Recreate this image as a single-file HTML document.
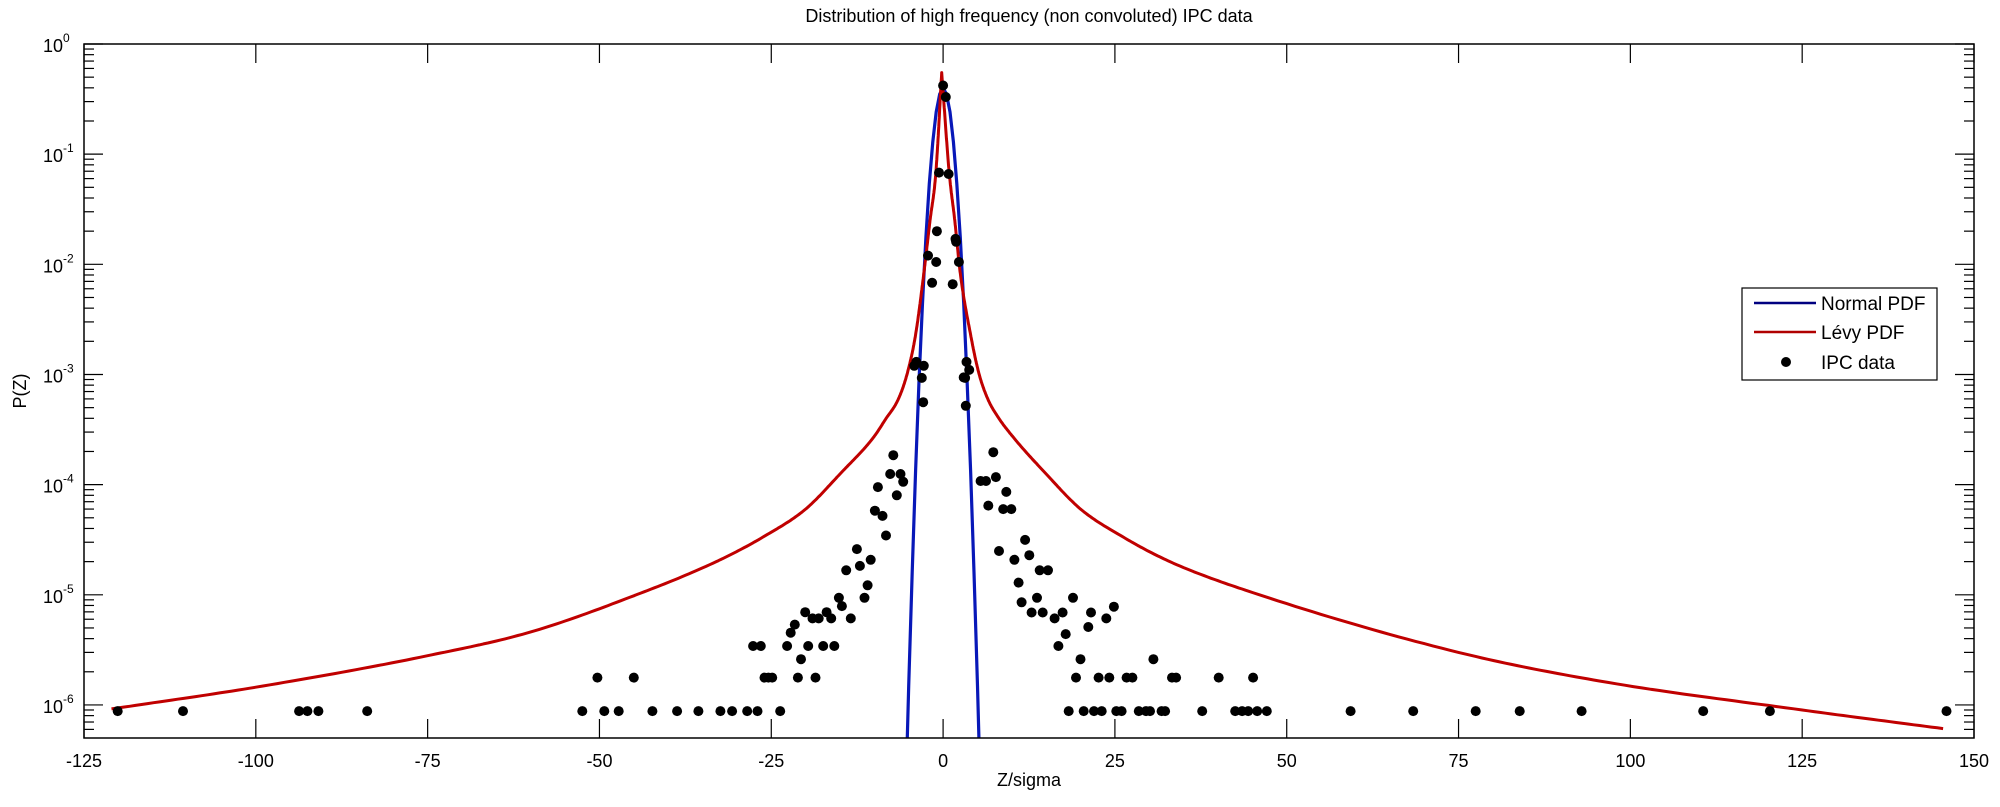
<!DOCTYPE html>
<html><head><meta charset="utf-8"><style>
html,body{margin:0;padding:0;background:#fff;}
svg{display:block;font-family:"Liberation Sans",Arial,sans-serif;}
</style></head><body>
<svg id="chart" width="2000" height="807" viewBox="0 0 2000 807">
<rect x="0" y="0" width="2000" height="807" fill="#fff"/>
<text x="1029" y="22" font-size="18" text-anchor="middle">Distribution of high frequency (non convoluted) IPC data</text>
<text x="1029" y="786" font-size="18" text-anchor="middle">Z/sigma</text>
<text x="26" y="391" font-size="18" text-anchor="middle" transform="rotate(-90 26 391)">P(Z)</text>
<defs><clipPath id="plotclip"><rect x="84" y="44" width="1890" height="694"/></clipPath></defs>
<g id="ticks"></g>
<g id="series" clip-path="url(#plotclip)"></g>
<g id="dots"></g>
<rect x="84" y="44" width="1890" height="694" fill="none" stroke="#000" stroke-width="1.5"/>
<g>
<rect x="1742" y="288" width="195" height="92" fill="#fff" stroke="#000" stroke-width="1.2"/>
<line x1="1754" y1="303" x2="1816" y2="303" stroke="#000080" stroke-width="2.5"/>
<text x="1821" y="310" font-size="19">Normal PDF</text>
<line x1="1754" y1="332" x2="1816" y2="332" stroke="#b00000" stroke-width="2.5"/>
<text x="1821" y="339" font-size="19">Lévy PDF</text>
<circle cx="1786" cy="362" r="5" fill="#000"/>
<text x="1821" y="369" font-size="19">IPC data</text>
</g>
</svg>
<script>
const xTicks = [-125,-100,-75,-50,-25,0,25,50,75,100,125,150];
const yExps = [0,-1,-2,-3,-4,-5,-6];
const normalX = [-5.5,-5,-4.5,-4,-3.5,-3,-2.5,-2,-1.5,-1,-0.5,0,0.5,1,1.5,2,2.5,3,3.5,4,4.5,5,5.5];
const normalP = [1.08e-7,1.49e-6,1.6e-5,1.34e-4,8.73e-4,4.43e-3,1.75e-2,5.4e-2,0.1295,0.242,0.352,0.399,0.352,0.242,0.1295,5.4e-2,1.75e-2,4.43e-3,8.73e-4,1.34e-4,1.6e-5,1.49e-6,1.08e-7];
const levyX = [-121,-100,-75,-60,-45,-33,-26,-20,-15,-10.1,-8.4,-6.5,-5.2,-4,-2.8,-1.9,-1.06,-0.2,0.9,1.7,2.5,4,5.2,6.5,8,10.2,15,20,26,33,45,75,95.5,125,145.5];
const levyP = [9.2e-7,1.45e-6,2.8e-6,4.6e-6,9.8e-6,2.0e-5,3.4e-5,6.0e-5,1.25e-4,2.7e-4,3.9e-4,6.0e-4,1.03e-3,2.3e-3,8.3e-3,0.025,0.067,0.55,0.067,0.025,8.3e-3,2.3e-3,1.03e-3,6.0e-4,4.1e-4,2.7e-4,1.25e-4,6.0e-5,3.4e-5,2.0e-5,1.05e-5,3.0e-6,1.65e-6,9.0e-7,6.1e-7];
const ipcX = [0,0.4,-0.6,0.8,-0.9,-2.2,-1.0,1.8,1.9,2.3,-1.6,1.4,
 -4.2,-3.9,-2.8,-3.1,-2.9,3.4,3.0,3.8,3.2,3.3,
 -7.25,-7.69,-6.19,-5.8,-6.74,-9.48,-9.92,-8.81,-8.31,-12.54,-12.1,-10.54,-14.1,-10.98,-11.43,-15.16,-14.72,-13.43,-20.07,-19.0,-18.1,-16.95,-16.28,-21.57,-22.18,-27.65,-26.53,-22.69,-19.62,-17.45,-15.83,-20.68,-25.98,-25.42,-24.86,-21.13,-18.56,
 -23.7,-27.0,-28.5,-30.7,-32.4,-35.6,-38.7,-42.3,-47.2,-49.3,-52.5,-50.3,-45.0,-83.8,-90.9,-92.5,-93.7,-110.6,-120.1,
 7.3,5.46,6.24,7.69,9.2,6.58,8.75,9.92,8.14,11.93,10.37,12.54,14.05,15.27,10.98,13.66,18.9,11.43,12.88,14.49,17.39,16.22,21.52,24.86,23.75,21.13,17.84,16.78,20.0,30.6,
 19.34,22.63,24.19,26.7,27.54,33.3,33.9,40.1,45.1,
 18.28,20.46,21.96,23.08,25.2,25.98,28.48,29.54,30.1,31.8,32.3,37.7,42.5,43.5,44.4,45.7,47.1,59.3,68.4,77.5,83.9,92.9,110.6,120.3,146];
const ipcP = [0.42,0.33,0.068,0.066,0.02,0.012,0.0105,0.017,0.016,0.0105,0.0068,0.0066,
 1.2e-3,1.3e-3,1.2e-3,9.3e-4,5.6e-4,1.3e-3,9.4e-4,1.1e-3,9.3e-4,5.2e-4,
 1.85e-4,1.25e-4,1.25e-4,1.06e-4,8.0e-5,9.5e-5,5.8e-5,5.2e-5,3.45e-5,2.6e-5,1.83e-5,2.08e-5,1.67e-5,1.22e-5,9.4e-6,9.4e-6,7.9e-6,6.1e-6,6.95e-6,6.1e-6,6.1e-6,6.95e-6,6.1e-6,5.36e-6,4.53e-6,3.43e-6,3.43e-6,3.43e-6,3.43e-6,3.43e-6,3.43e-6,2.6e-6,1.77e-6,1.77e-6,1.77e-6,1.77e-6,1.77e-6,
 8.8e-7,8.8e-7,8.8e-7,8.8e-7,8.8e-7,8.8e-7,8.8e-7,8.8e-7,8.8e-7,8.8e-7,8.8e-7,1.77e-6,1.77e-6,8.8e-7,8.8e-7,8.8e-7,8.8e-7,8.8e-7,8.8e-7,
 1.97e-4,1.08e-4,1.08e-4,1.17e-4,8.6e-5,6.45e-5,6.0e-5,6.0e-5,2.5e-5,3.15e-5,2.08e-5,2.29e-5,1.67e-5,1.67e-5,1.29e-5,9.4e-6,9.4e-6,8.55e-6,6.9e-6,6.9e-6,6.9e-6,6.1e-6,6.9e-6,7.8e-6,6.1e-6,5.1e-6,4.4e-6,3.43e-6,2.6e-6,2.6e-6,
 1.77e-6,1.77e-6,1.77e-6,1.77e-6,1.77e-6,1.77e-6,1.77e-6,1.77e-6,1.77e-6,
 8.8e-7,8.8e-7,8.8e-7,8.8e-7,8.8e-7,8.8e-7,8.8e-7,8.8e-7,8.8e-7,8.8e-7,8.8e-7,8.8e-7,8.8e-7,8.8e-7,8.8e-7,8.8e-7,8.8e-7,8.8e-7,8.8e-7,8.8e-7,8.8e-7,8.8e-7,8.8e-7,8.8e-7,8.8e-7];

const NS = 'http://www.w3.org/2000/svg';
const L = 84, R = 1974, T = 44, B = 738;
const xMin = -125, xMax = 150, logMax = 0, logMin = -6.3;
function xs(v){ return L + (v - xMin) / (xMax - xMin) * (R - L); }
function ys(p){ return T + (logMax - Math.log10(p)) / (logMax - logMin) * (B - T); }
function mk(tag, attrs, parent){ const e = document.createElementNS(NS, tag); for (const k in attrs) e.setAttribute(k, attrs[k]); parent.appendChild(e); return e; }

const ticksG = document.getElementById('ticks');
xTicks.forEach(v => {
  const x = xs(v);
  const t1 = mk('line', {x1:x, y1:B, x2:x, y2:B-19, stroke:'#000', 'stroke-width':1.2}, ticksG);
  
  
  const t2 = mk('line', {x1:x, y1:T, x2:x, y2:T+19, stroke:'#000', 'stroke-width':1.2}, ticksG);
  
  
  const lb = mk('text', {x:x, y:767, 'font-size':18, 'text-anchor':'middle'}, ticksG);
  lb.textContent = String(v);
  
  
});
yExps.forEach(e => {
  const y = ys(Math.pow(10, e));
  const t1 = mk('line', {x1:L, y1:y, x2:L+19, y2:y, stroke:'#000', 'stroke-width':1.2}, ticksG);
  
  
  const t2 = mk('line', {x1:R, y1:y, x2:R-19, y2:y, stroke:'#000', 'stroke-width':1.2}, ticksG);
  
  
  for (let m = 2; m <= 9; m++) {
    const p = m * Math.pow(10, e - 1);
    if (Math.log10(p) < logMin) continue;
    const yy = ys(p);
    const a = mk('line', {x1:L, y1:yy, x2:L+10, y2:yy, stroke:'#000', 'stroke-width':1.2}, ticksG);
    
    
    const b = mk('line', {x1:R, y1:yy, x2:R-10, y2:yy, stroke:'#000', 'stroke-width':1.2}, ticksG);
    
    
  }
  const lb = mk('text', {x:63, y:y+8, 'font-size':18, 'text-anchor':'end'}, ticksG);
  lb.textContent = '10';
  
  
  const sp = mk('text', {x:63, y:y-2, 'font-size':12, 'text-anchor':'start'}, ticksG);
  sp.textContent = String(e);
  
  
});

const seriesG = document.getElementById('series');
function pathFrom(xArr, pArr){ return xArr.map((v,i) => (i ? 'L' : 'M') + xs(v).toFixed(1) + ',' + ys(pArr[i]).toFixed(1)).join(' '); }
// monotone cubic (Fritsch-Carlson) in (x, log10 p) space, piecewise on each monotone side
function monoPts(X, Y){
  const n = X.length, d = [], m = new Array(n);
  for (let i = 0; i < n-1; i++) d.push((Y[i+1]-Y[i])/(X[i+1]-X[i]));
  m[0] = d[0]; m[n-1] = d[n-2];
  for (let i = 1; i < n-1; i++) m[i] = (d[i-1]*d[i] <= 0) ? 0 : (d[i-1]+d[i])/2;
  for (let i = 0; i < n-1; i++) {
    if (d[i] === 0) { m[i] = 0; m[i+1] = 0; continue; }
    const a = m[i]/d[i], b = m[i+1]/d[i], s = a*a + b*b;
    if (s > 9) { const t = 3/Math.sqrt(s); m[i] = t*a*d[i]; m[i+1] = t*b*d[i]; }
  }
  const out = [];
  for (let i = 0; i < n-1; i++) {
    const h = X[i+1]-X[i], steps = 24;
    for (let k = 0; k < steps; k++) {
      const t = k/steps, t2 = t*t, t3 = t2*t;
      const y = (2*t3-3*t2+1)*Y[i] + (t3-2*t2+t)*h*m[i] + (-2*t3+3*t2)*Y[i+1] + (t3-t2)*h*m[i+1];
      out.push([X[i] + t*h, y]);
    }
  }
  out.push([X[n-1], Y[n-1]]);
  return out;
}
function levyPath(X, P){
  let pk = 0; P.forEach((p,i) => { if (p > P[pk]) pk = i; });
  const LY = P.map(p => Math.log10(p));
  const left = monoPts(X.slice(0, pk+1), LY.slice(0, pk+1));
  const right = monoPts(X.slice(pk), LY.slice(pk));
  const all = left.concat(right.slice(1));
  return all.map((q,i) => (i ? 'L' : 'M') + xs(q[0]).toFixed(1) + ',' + ys(Math.pow(10, q[1])).toFixed(1)).join(' ');
}
const nPath = mk('path', {d: pathFrom(normalX, normalP), fill:'none', stroke:'#0818b8', 'stroke-width':3.2, 'stroke-linejoin':'round'}, seriesG);


const lPath = mk('path', {d: levyPath(levyX, levyP), fill:'none', stroke:'#c00000', 'stroke-width':3, 'stroke-linejoin':'round'}, seriesG);



const dotsG = document.getElementById('dots');
ipcX.forEach((v, i) => {
  const c = mk('circle', {cx: xs(v).toFixed(1), cy: ys(ipcP[i]).toFixed(1), r: 5, fill:'#000'}, dotsG);
  
  
});
</script>
</body></html>
